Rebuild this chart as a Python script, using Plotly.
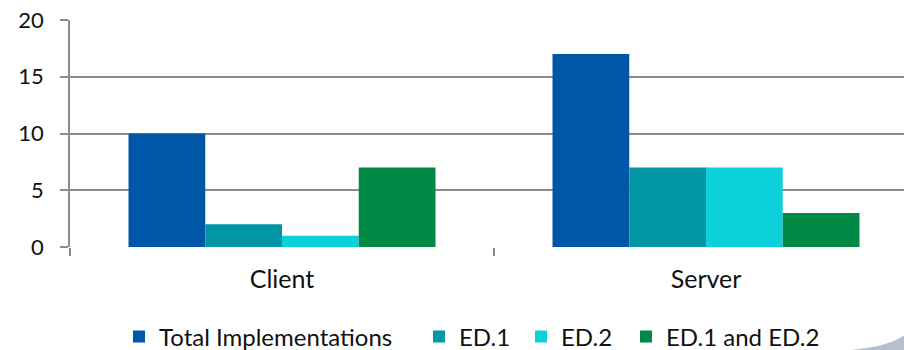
import plotly.graph_objects as go

categories = ["Client", "Server"]
series_names = ["Total Implementations", "ED.1", "ED.2", "ED.1 and ED.2"]
total_impl = [10, 17]
ed1 = [2, 7]
ed2 = [1, 7]
ed1_and_ed2 = [7, 3]
y_ticks = [0, 5, 10, 15, 20]

colors = ["#0057A8", "#0096A4", "#0CD1DA", "#008844"]
values = [total_impl, ed1, ed2, ed1_and_ed2]

# each legend entry gets its own legend box, placed left-to-right (px from left)
legend_ids = ["legend", "legend2", "legend3", "legend4"]
legend_left_px = [119, 419, 521, 626]

FONT = "Lato, Calibri, Carlito, sans-serif"
AXIS_GRAY = "#8c8c8c"
TEXT = "#111111"
W, H = 904, 350

fig = go.Figure()
for name, vals, col, lg in zip(series_names, values, colors, legend_ids):
    fig.add_trace(go.Bar(
        x=categories, y=vals, name=name, legend=lg,
        marker=dict(color=col, line=dict(width=0)),
    ))

legend_layout = {}
for lg, left in zip(legend_ids, legend_left_px):
    legend_layout[lg] = dict(
        orientation="h", x=left / W, xref="container", xanchor="left",
        y=13 / H, yref="container", yanchor="middle",
        font=dict(family=FONT, size=24, color=TEXT),
        itemwidth=30, bgcolor="rgba(0,0,0,0)", borderwidth=0,
    )

fig.update_layout(
    width=W, height=H,
    margin=dict(l=70, r=0, t=20, b=103, autoexpand=False),
    paper_bgcolor="white", plot_bgcolor="white",
    barmode="group", bargap=0.276, bargroupgap=0,
    font=dict(family=FONT, size=23, color=TEXT),
    showlegend=True,
    xaxis=dict(
        type="category",
        range=[-0.5, -0.5 + 834 / 424],
        showgrid=False,
        showline=False,
        ticks="outside", tickson="boundaries", ticklen=8, tickwidth=1.5,
        tickcolor=AXIS_GRAY,
        tickfont=dict(family=FONT, size=25, color=TEXT),
        ticklabelstandoff=15,
        zeroline=False,
    ),
    yaxis=dict(
        range=[0, 20], tickvals=y_ticks,
        showgrid=True, gridcolor=AXIS_GRAY, gridwidth=1.5,
        showline=True, linecolor=AXIS_GRAY, linewidth=1.5,
        ticks="outside", ticklen=8, tickwidth=1.5, tickcolor=AXIS_GRAY,
        tickfont=dict(family=FONT, size=22, color=TEXT),
        zeroline=False, ticklabelstandoff=12,
    ),
    shapes=[
        dict(type="path", xref="paper", yref="paper", layer="above",
             path="M 0.935,-0.454 Q 0.98,-0.44 1.0,-0.39 L 1.0,-0.454 Z",
             fillcolor="rgba(120,140,165,0.55)", line=dict(width=0)),
    ],
    **legend_layout,
)

fig.write_html("out.html")
